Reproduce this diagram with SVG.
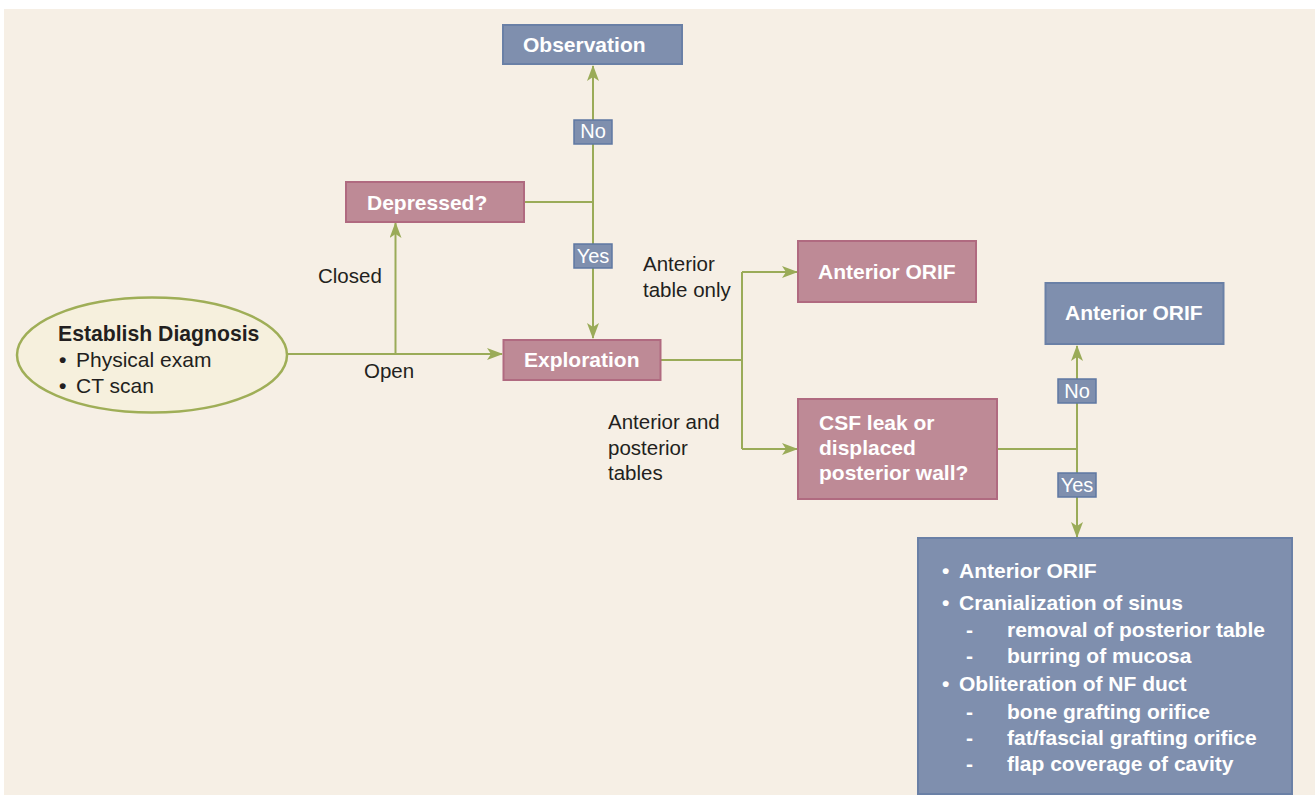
<svg xmlns="http://www.w3.org/2000/svg" width="1315" height="797" viewBox="0 0 1315 797">
<defs>
<marker id="arr" viewBox="0 0 16 12" refX="15" refY="6" markerWidth="16" markerHeight="12" markerUnits="userSpaceOnUse" orient="auto">
<path d="M0,0 L16,6 L0,12 L4,6 Z" fill="#9aab58"/>
</marker>
</defs>
<style>
.bg{fill:#f6efe5}
.pink{fill:#be8a96;stroke:#b06a80;stroke-width:2}
.blue{fill:#7f8fae;stroke:#6a80a6;stroke-width:2}
.lbl{fill:#7f8fae;stroke:#5f78a2;stroke-width:1.5}
.ell{fill:#f6f0dd;stroke:#9fae57;stroke-width:2.5}
.con{fill:none;stroke:#9aab58;stroke-width:2}
.bt{font-family:"Liberation Sans",Arial,sans-serif;font-weight:bold;font-size:21px;fill:#ffffff}
.bb{font-family:"Liberation Sans",Arial,sans-serif;font-weight:bold;font-size:21px;fill:#ffffff}
.lt{font-family:"Liberation Sans",Arial,sans-serif;font-size:20px;fill:#ffffff}
.tx{font-family:"Liberation Sans",Arial,sans-serif;font-size:20.5px;fill:#231f20}
.txe{font-family:"Liberation Sans",Arial,sans-serif;font-size:21px;fill:#231f20}
.bul{font-family:"Liberation Sans",Arial,sans-serif;font-size:21px;font-weight:bold;fill:#231f20}
.txb{font-family:"Liberation Sans",Arial,sans-serif;font-size:21.2px;font-weight:bold;fill:#231f20}
</style>
<rect x="0" y="0" width="1315" height="797" fill="#ffffff"/>
<rect class="bg" x="4" y="9" width="1311" height="786"/>

<g id="connectors">
<path class="con" d="M287,354 H502" marker-end="url(#arr)"/>
<path class="con" d="M395.5,354 V223" marker-end="url(#arr)"/>
<path class="con" d="M524,202 H593"/>
<path class="con" d="M593,202 V66" marker-end="url(#arr)"/>
<path class="con" d="M593,202 V338" marker-end="url(#arr)"/>
<path class="con" d="M661,360 H742"/>
<path class="con" d="M742,272 V449"/>
<path class="con" d="M742,272 H797" marker-end="url(#arr)"/>
<path class="con" d="M742,449 H797" marker-end="url(#arr)"/>
<path class="con" d="M997,449 H1077"/>
<path class="con" d="M1077,449 V346" marker-end="url(#arr)"/>
<path class="con" d="M1077,449 V537" marker-end="url(#arr)"/>
<g id="label-no-1"><rect class="lbl" x="574" y="120" width="38" height="24"/><text class="lt" x="593" y="138" text-anchor="middle">No</text></g>
<g id="label-yes-1"><rect class="lbl" x="574" y="244" width="38" height="24"/><text class="lt" x="593" y="262.5" text-anchor="middle">Yes</text></g>
<g id="label-no-2"><rect class="lbl" x="1058" y="379" width="38" height="24"/><text class="lt" x="1077" y="397.5" text-anchor="middle">No</text></g>
<g id="label-yes-2"><rect class="lbl" x="1058" y="473" width="38" height="24"/><text class="lt" x="1077" y="491.5" text-anchor="middle">Yes</text></g>
<text class="tx" x="318" y="283">Closed</text>
<text class="tx" x="364" y="378">Open</text>
<text class="tx" x="643" y="271">Anterior</text>
<text class="tx" x="643" y="297">table only</text>
<text class="tx" x="608" y="429">Anterior and</text>
<text class="tx" x="608" y="455">posterior</text>
<text class="tx" x="608" y="480">tables</text>
</g>

<g id="establish-diagnosis">
<ellipse class="ell" cx="152" cy="355" rx="135" ry="57.5"/>
<text class="txb" x="58" y="341">Establish Diagnosis</text>
<text class="bul" x="59" y="367">•</text><text class="txe" x="76" y="367">Physical exam</text>
<text class="bul" x="59" y="393">•</text><text class="txe" x="76" y="393">CT scan</text>
</g>

<g id="observation">
<rect class="blue" x="503" y="25" width="179" height="39"/>
<text class="bt" x="523" y="52">Observation</text>
</g>

<g id="depressed">
<rect class="pink" x="346" y="182" width="178" height="40"/>
<text class="bt" x="367" y="210">Depressed?</text>
</g>

<g id="exploration">
<rect class="pink" x="503.5" y="340" width="157" height="40"/>
<text class="bt" x="524" y="367">Exploration</text>
</g>

<g id="anterior-orif-1">
<rect class="pink" x="798" y="241" width="178" height="61"/>
<text class="bt" x="818" y="279">Anterior ORIF</text>
</g>

<g id="csf-leak">
<rect class="pink" x="798" y="399" width="199" height="100"/>
<text class="bt" x="819" y="430">CSF leak or</text>
<text class="bt" x="819" y="455">displaced</text>
<text class="bt" x="819" y="480">posterior wall?</text>
</g>

<g id="anterior-orif-2">
<rect class="blue" x="1045.5" y="283" width="178" height="61"/>
<text class="bt" x="1065" y="320">Anterior ORIF</text>
</g>

<g id="treatment">
<rect class="blue" x="918" y="538" width="374" height="256"/>
<text class="bb" x="942" y="578">•</text><text class="bb" x="959" y="578">Anterior ORIF</text>
<text class="bb" x="942" y="610">•</text><text class="bb" x="959" y="610">Cranialization of sinus</text>
<text class="bb" x="966" y="637">-</text><text class="bb" x="1007" y="637">removal of posterior table</text>
<text class="bb" x="966" y="663">-</text><text class="bb" x="1007" y="663">burring of mucosa</text>
<text class="bb" x="942" y="691">•</text><text class="bb" x="959" y="691">Obliteration of NF duct</text>
<text class="bb" x="966" y="719">-</text><text class="bb" x="1007" y="719">bone grafting orifice</text>
<text class="bb" x="966" y="745">-</text><text class="bb" x="1007" y="745">fat/fascial grafting orifice</text>
<text class="bb" x="966" y="771">-</text><text class="bb" x="1007" y="771">flap coverage of cavity</text>
</g>
</svg>
